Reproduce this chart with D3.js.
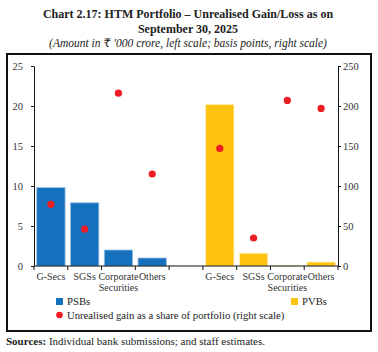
<!DOCTYPE html>
<html>
<head>
<meta charset="utf-8">
<script src="https://cdn.jsdelivr.net/npm/d3@7"></script>
<style>
  body { margin: 0; background: #fff; }
  text { font-family: "Liberation Serif", "DejaVu Serif", serif; }
</style>
</head>
<body>
<script>
// Categories: 4 per bank group, one empty slot between the groups
const categories = ['p1', 'p2', 'p3', 'p4', 'gap', 'v1', 'v2', 'v3', 'v4'];
const catLabels = [['G-Secs'], ['SGSs'], ['Corporate', 'Securities'], ['Others'], [],
  ['G-Secs'], ['SGSs'], ['Corporate', 'Securities'], ['Others']];

// Amount in Rs '000 crore (left scale)
const psbValues = [9.8, 7.9, 2.0, 1.0];
const pvbValues = [20.2, 1.6, 0.1, 0.5];
// Unrealised gain as share of portfolio, bps (right scale)
const psbShare = [77, 46, 216, 115];
const pvbShare = [147, 35, 207, 197];

const leftTicks = [0, 5, 10, 15, 20, 25];
const rightTicks = [0, 50, 100, 150, 200, 250];

const blue = '#1570be';
const yellow = '#ffc20e';
const red = '#ee1c25';
const axisColor = '#333';

const width = 378;
const height = 352;

const svg = d3.select('body')
  .append('svg')
  .attr('width', width)
  .attr('height', height);

// title
const title = svg.append('g').attr('text-anchor', 'middle');
title.append('text').attr('x', 188).attr('y', 18)
  .attr('font-weight', 'bold').attr('font-size', 12).attr('fill', '#222')
  .text('Chart 2.17: HTM Portfolio – Unrealised Gain/Loss as on');
title.append('text').attr('x', 188).attr('y', 33)
  .attr('font-weight', 'bold').attr('font-size', 12).attr('fill', '#222')
  .text('September 30, 2025');
title.append('text').attr('x', 188).attr('y', 47)
  .attr('font-style', 'italic').attr('font-size', 11.5).attr('fill', '#222')
  .text("(Amount in ₹ '000 crore, left scale; basis points, right scale)");

// frame
svg.append('rect')
  .attr('x', 7).attr('y', 54).attr('width', 364).attr('height', 277)
  .attr('fill', 'none').attr('stroke', '#111').attr('stroke-width', 2);

const x = d3.scaleBand()
  .domain(categories)
  .range([34, 338])
  .paddingInner(0.16)
  .paddingOuter(0.08);

const yL = d3.scaleLinear().domain([0, 25]).range([266, 66]);
const yR = d3.scaleLinear().domain([0, 250]).range([266, 66]);

const bars = [
  ...psbValues.map((v, i) => ({ cat: categories[i], v, color: blue, edge: '#9cc3e6' })),
  ...pvbValues.map((v, i) => ({ cat: categories[i + 5], v, color: yellow, edge: '#fff3c4' }))
];
const dots = [
  ...psbShare.map((v, i) => ({ cat: categories[i], v })),
  ...pvbShare.map((v, i) => ({ cat: categories[i + 5], v }))
];

svg.append('g')
  .selectAll('rect')
  .data(bars)
  .join('rect')
  .attr('x', d => x(d.cat))
  .attr('y', d => yL(d.v))
  .attr('width', x.bandwidth())
  .attr('height', d => yL(0) - yL(d.v))
  .attr('fill', d => d.color)
  .attr('stroke', d => d.edge)
  .attr('stroke-width', 0.8);

// axes
const styleAxis = g => {
  g.selectAll('path, line').attr('stroke', '#111');
  g.selectAll('text')
    .attr('fill', axisColor)
    .attr('font-size', 10.5)
    .style('font-family', '"Liberation Serif", serif');
};

svg.append('g')
  .attr('transform', 'translate(34,0)')
  .call(d3.axisLeft(yL).tickValues(leftTicks).tickSize(3).tickSizeOuter(0).tickPadding(8))
  .call(styleAxis);

svg.append('g')
  .attr('transform', 'translate(338,0)')
  .call(d3.axisRight(yR).tickValues(rightTicks).tickSize(3).tickSizeOuter(0).tickPadding(2))
  .call(styleAxis);

// x axis with ticks at band boundaries
const xAxis = svg.append('g').attr('transform', 'translate(0,266)');
xAxis.append('line')
  .attr('x1', 34).attr('x2', 338)
  .attr('stroke', '#111');
const bounds = d3.range(categories.length + 1).map(i => x.range()[0] + i * (x.range()[1] - x.range()[0]) / categories.length);
xAxis.selectAll('line.tick')
  .data(bounds)
  .join('line')
  .attr('class', 'tick')
  .attr('x1', d => d).attr('x2', d => d)
  .attr('y1', 0).attr('y2', 4)
  .attr('stroke', '#111');

const labelG = xAxis.selectAll('text.lab')
  .data(categories)
  .join('text')
  .attr('class', 'lab')
  .attr('text-anchor', 'middle')
  .attr('fill', axisColor)
  .attr('font-size', 10)
  .attr('transform', d => `translate(${x(d) + x.bandwidth() / 2},0)`);
labelG.selectAll('tspan')
  .data((d, i) => catLabels[i])
  .join('tspan')
  .attr('x', 0)
  .attr('y', (d, j) => 14 + j * 11)
  .text(d => d);

// dots
svg.append('g')
  .selectAll('circle')
  .data(dots)
  .join('circle')
  .attr('cx', d => x(d.cat) + x.bandwidth() / 2)
  .attr('cy', d => yR(d.v))
  .attr('r', 3.6)
  .attr('fill', red);

// legend
const legend = svg.append('g').attr('font-size', 10.7).attr('fill', '#222');
legend.append('rect').attr('x', 56).attr('y', 298).attr('width', 7).attr('height', 7).attr('fill', blue);
legend.append('text').attr('x', 67).attr('y', 305).attr('fill', '#222').text('PSBs');
legend.append('rect').attr('x', 291).attr('y', 298).attr('width', 7).attr('height', 7).attr('fill', yellow);
legend.append('text').attr('x', 302).attr('y', 305).attr('fill', '#222').text('PVBs');
legend.append('circle').attr('cx', 59.5).attr('cy', 315).attr('r', 3.3).attr('fill', red);
legend.append('text').attr('x', 67).attr('y', 318.5).attr('fill', '#222')
  .text('Unrealised gain as a share of portfolio (right scale)');

// sources
const src = svg.append('text').attr('x', 6).attr('y', 345).attr('font-size', 11).attr('fill', '#222');
src.append('tspan').attr('font-weight', 'bold').text('Sources:');
src.append('tspan').text(' Individual bank submissions; and staff estimates.');
</script>
</body>
</html>
